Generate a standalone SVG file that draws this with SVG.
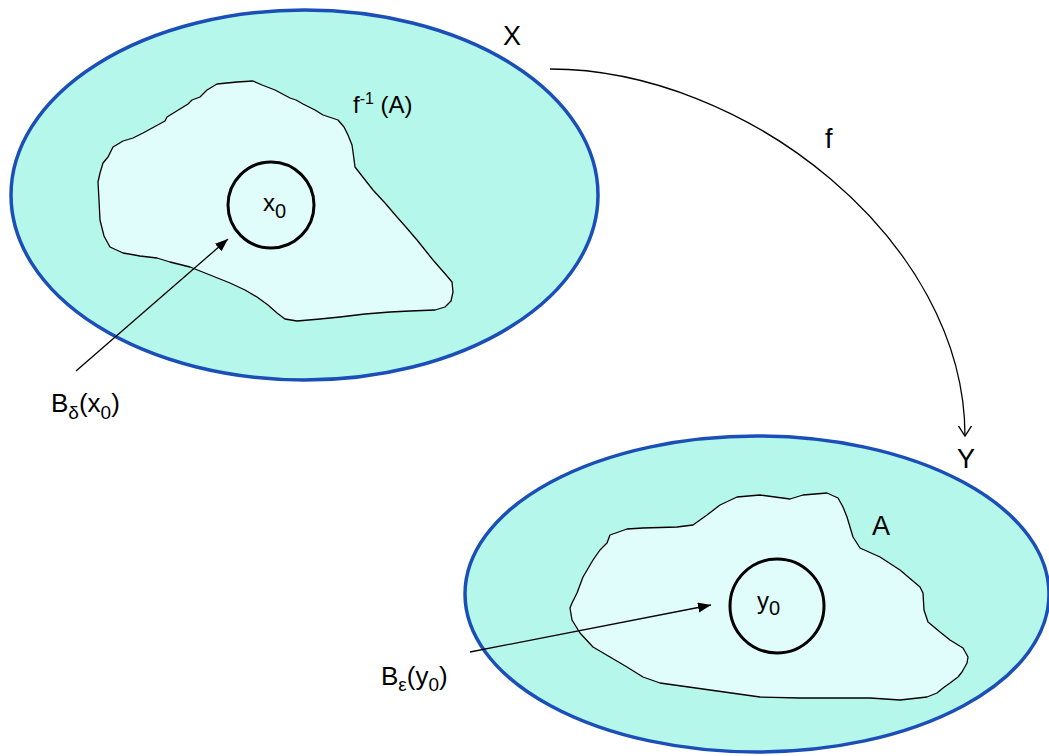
<svg xmlns="http://www.w3.org/2000/svg" width="1049" height="756" viewBox="0 0 1049 756">
<style>
.set{fill:#b6f7ec;stroke:#1b4fb8;stroke-width:3.5}
.blob{fill:#e0fdfb;stroke:#000;stroke-width:1.3;stroke-linejoin:round}
.ball{fill:none;stroke:#000;stroke-width:3}
.lbl{font-family:"Liberation Sans",Arial,sans-serif;fill:#000}
.conn{fill:none;stroke:#000;stroke-width:1.3}
</style>
<defs>
<marker id="tri" markerUnits="userSpaceOnUse" markerWidth="14" markerHeight="12" refX="13" refY="5" orient="auto">
<path d="M0,0 L13,5 L0,10 z" fill="#000"/>
</marker>
<marker id="open" markerUnits="userSpaceOnUse" markerWidth="12" markerHeight="14" refX="10" refY="6.5" orient="auto">
<path d="M0,0 L10,6.5 L0,13" fill="none" stroke="#000" stroke-width="1.3"/>
</marker>
</defs>
<g id="setX">
<ellipse class="set" cx="304.5" cy="195" rx="293.5" ry="185"/>
<text class="lbl" x="503" y="45" font-size="27">X</text>
</g>
<g id="preimage">
<path class="blob" d="M217,84 L237,82 L253,81 L262,85 L275,90 L290,98 L296,100 L303,104 L315,110 L323,115 L338,120 L344,127 L348,135 L352,145 L353,152 L355,167 L362,176 L373,190 L385,203 L397,217 L405,226 L417,240 L425,250 L433,260 L440,268 L447,276 L452,282 L453,292 L451,301 L445,307 L435,310 L410,311 L390,312 L365,314 L340,317 L320,319 L297,321 L285,319 L277,313 L268,305 L257,297 L245,290 L230,283 L210,275 L190,267 L170,262 L157,258 L140,256 L123,253 L110,247 L104,236 L100,220 L99,200 L98,182 L100,173 L103,163 L108,157 L113,147 L123,141 L133,138 L143,133 L165,121 L167,117 L188,104 L192,100 L200,97 L207,90 Z"/>
<text class="lbl" x="353" y="113" font-size="24">f<tspan font-size="16" dy="-9">-1</tspan><tspan dy="9"> (A)</tspan></text>
</g>
<g id="ballX">
<circle class="ball" cx="271" cy="205" r="43"/>
<text class="lbl" x="263" y="211" font-size="24">x<tspan font-size="20" dy="7">0</tspan></text>
</g>
<g id="setY">
<ellipse class="set" cx="757" cy="594" rx="292" ry="158"/>
<text class="lbl" x="957" y="468" font-size="27">Y</text>
</g>
<g id="setA">
<path class="blob" d="M610,535 L627,529 L643,528 L677,527 L693,525 L707,515 L720,505 L737,497 L760,495 L775,497 L790,499 L803,495 L827,493 L838,498 L843,507 L847,517 L853,537 L860,548 L880,557 L900,570 L920,587 L923,593 L924,610 L928,622 L940,632 L950,640 L963,648 L968,657 L967,663 L962,672 L958,677 L950,683 L943,688 L937,693 L927,697 L900,700 L870,698 L850,698 L800,698 L760,697 L710,690 L660,683 L643,677 L627,667 L610,657 L593,647 L580,633 L572,620 L570,608 L572,603 L577,593 L583,577 L593,560 L600,550 L607,543 Z"/>
<text class="lbl" x="872" y="535" font-size="27">A</text>
</g>
<g id="ballY">
<circle class="ball" cx="777" cy="606" r="47"/>
<text class="lbl" x="757" y="609" font-size="24">y<tspan font-size="20" dy="6">0</tspan></text>
</g>
<g id="labelBdelta">
<text class="lbl" x="51" y="412" font-size="26">B<tspan font-size="19" dy="7">δ</tspan><tspan dy="-7">(x</tspan><tspan font-size="19" dy="7">0</tspan><tspan dy="-7">)</tspan></text>
</g>
<g id="labelBeps">
<text class="lbl" x="381" y="685" font-size="26">B<tspan font-size="19" dy="6">ε</tspan><tspan dy="-6">(y</tspan><tspan font-size="19" dy="6">0</tspan><tspan dy="-6">)</tspan></text>
</g>
<g id="connectors">
<path class="conn" d="M550,69 C745,69 965,240 965,436" marker-end="url(#open)"/>
<text class="lbl" x="825" y="148" font-size="27">f</text>
<line class="conn" x1="76" y1="371" x2="228" y2="239" marker-end="url(#tri)"/>
<line class="conn" x1="470" y1="652" x2="711" y2="605" marker-end="url(#tri)"/>
</g>
</svg>
